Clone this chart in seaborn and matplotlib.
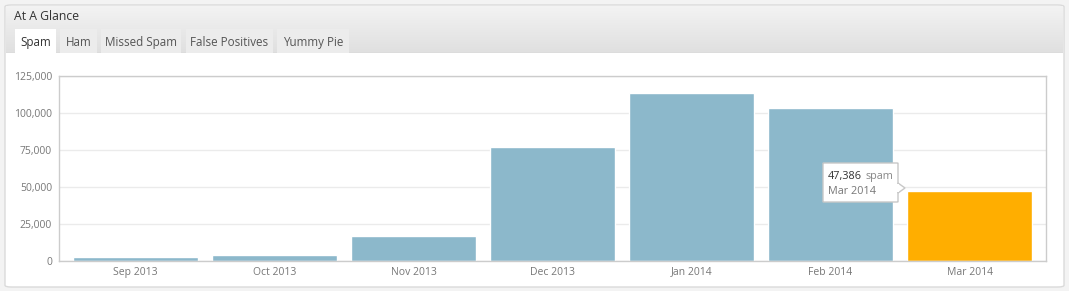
import matplotlib
matplotlib.use("Agg")
import matplotlib.pyplot as plt
import seaborn as sns
import pandas as pd
from matplotlib.patches import Rectangle, FancyBboxPatch, Polygon
from matplotlib.ticker import FuncFormatter

months = ["Sep 2013", "Oct 2013", "Nov 2013", "Dec 2013", "Jan 2014", "Feb 2014", "Mar 2014"]
spam = [2400, 4300, 16900, 77300, 113800, 103400, 47386]
bar_colors = ["#8cb8cb"] * 6 + ["#ffae00"]
tabs = ["Spam", "Ham", "Missed Spam", "False Positives", "Yummy Pie"]
y_ticks = [0, 25000, 50000, 75000, 100000, 125000]

sns.set_theme(style="white")
plt.rcParams["font.family"] = ["Open Sans", "DejaVu Sans"]

W, H = 1069, 291
fig = plt.figure(figsize=(W / 100, H / 100), dpi=100)
fig.patch.set_facecolor("#f3f3f3")

def fx(x):
    return x / W

def fy(y):
    return 1 - y / H

def rect(x0, y0, x1, y1, **kw):
    r = Rectangle((fx(x0), fy(y1)), fx(x1) - fx(x0), fy(y0) - fy(y1),
                  transform=fig.transFigure, **kw)
    fig.patches.append(r)
    return r

# outer panel
p = FancyBboxPatch((fx(5), fy(287)), fx(1064) - fx(5), fy(5) - fy(287),
                   boxstyle="round,pad=0,rounding_size=0.006",
                   transform=fig.transFigure, facecolor="white",
                   edgecolor="#dadada", linewidth=1)
fig.patches.append(p)
# header gradient (approximate with bands)
for i in range(47):
    y0 = 6 + i
    c = 0.95 - 0.075 * i / 46
    rect(6, y0, 1063, y0 + 1.05, facecolor=(c, c, c), edgecolor="none")
rect(6, 52, 1063, 53, facecolor="#dcdcdc", edgecolor="none")
fig.text(fx(14), fy(16), "At A Glance", fontsize=8.8, color="#333333", va="center", ha="left")

tab_x = [(15, 56), (60, 97), (101, 181), (186, 273), (277, 349)]
for (x0, x1), label in zip(tab_x, tabs):
    active = label == "Spam"
    rect(x0, 29, x1, 53, facecolor="white" if active else "#ececec", edgecolor="none")
    fig.text(fx((x0 + x1) / 2), fy(42.5), label, fontsize=8.4,
             color="#333333" if active else "#555555", ha="center", va="center")

ax = fig.add_axes([fx(59), fy(261), fx(1046) - fx(59), fy(76) - fy(261)])
ax.set_zorder(5)
ax.set_facecolor("white")
df = pd.DataFrame({"month": months, "spam": spam})
sns.barplot(data=df, x="month", y="spam", hue="month", palette=bar_colors,
            legend=False, width=0.9, saturation=1, ax=ax, zorder=2)
ax.set_xlim(-0.55, len(months) - 0.45)
ax.set_ylim(0, 125000)
ax.set_yticks(y_ticks)
ax.yaxis.set_major_formatter(FuncFormatter(lambda v, _: f"{int(v):,}"))
ax.grid(axis="y", color="#ebebeb", linewidth=1, zorder=0)
ax.set_axisbelow(True)
ax.set_xlabel("")
ax.set_ylabel("")
for s in ax.spines.values():
    s.set_color("#cccccc")
    s.set_linewidth(1)
ax.tick_params(axis="both", length=0, labelsize=7.5, labelcolor="#777777")
ax.tick_params(axis="y", pad=5)
ax.tick_params(axis="x", pad=9.8)
for lbl in ax.get_xticklabels():
    lbl.set_verticalalignment("baseline")

# tooltip (drawn above the axes)
tb = FancyBboxPatch((fx(823), fy(202)), fx(898) - fx(823), fy(163) - fy(202),
                    boxstyle="round,pad=0,rounding_size=0.001",
                    transform=fig.transFigure, facecolor="white",
                    edgecolor="#c8c8c8", linewidth=1, zorder=10)
fig.patches.append(tb)
arrow = Polygon([(fx(898), fy(183)), (fx(905), fy(188)), (fx(898), fy(193))],
                closed=True, transform=fig.transFigure, facecolor="white",
                edgecolor="#c8c8c8", linewidth=1, zorder=11)
fig.patches.append(arrow)
rect(897, 184, 899, 192, facecolor="white", edgecolor="none", zorder=12)
fig.text(fx(828), fy(177), f"{spam[-1]:,}", fontsize=7.8, color="#333333", va="center", zorder=13)
fig.text(fx(866), fy(177), "spam", fontsize=7.8, color="#888888", va="center", zorder=13)
fig.text(fx(828), fy(191), months[-1], fontsize=7.8, color="#777777", va="center", zorder=13)

fig.savefig("out.png", dpi=100, facecolor=fig.get_facecolor())
